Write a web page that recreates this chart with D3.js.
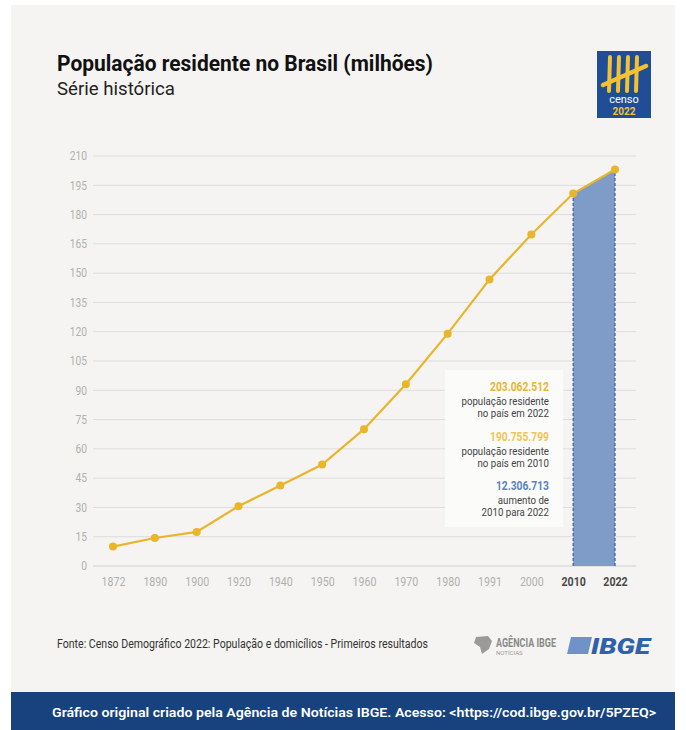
<!DOCTYPE html>
<html>
<head>
<meta charset="utf-8">
<script src="https://cdn.jsdelivr.net/npm/d3@7"></script>
<style>
  body { margin: 0; background: #fff; }
  text { font-family: "Roboto", sans-serif; }
</style>
</head>
<body>
<div id="chart"></div>
<script>
// data
const years = ["1872", "1890", "1900", "1920", "1940", "1950", "1960", "1970", "1980", "1991", "2000", "2010", "2022"];
const population = [9.93, 14.33, 17.44, 30.64, 41.24, 51.94, 70.07, 93.14, 119.0, 146.8, 169.8, 190.76, 203.06];
const yTicks = [0, 15, 30, 45, 60, 75, 90, 105, 120, 135, 150, 165, 180, 195, 210];
const highlightYears = ["2010", "2022"];

const svgWidth = 686;
const svgHeight = 730;

const svg = d3.select("#chart")
    .append("svg")
    .attr("width", svgWidth)
    .attr("height", svgHeight);

// squeeze text horizontally to mimic a condensed face
function condense(sel, k) {
    sel.each(function() {
        const w = this.getComputedTextLength();
        d3.select(this)
            .attr("textLength", w * k)
            .attr("lengthAdjust", "spacingAndGlyphs");
    });
    return sel;
}

// panel background
svg.append("rect")
    .attr("x", 11).attr("y", 5)
    .attr("width", 664).attr("height", 725)
    .attr("fill", "#f5f4f2");

// title
svg.append("text")
    .attr("x", 57).attr("y", 71)
    .attr("font-size", 22).attr("font-weight", "bold")
    .attr("fill", "#111")
    .attr("textLength", 376).attr("lengthAdjust", "spacingAndGlyphs")
    .text("População residente no Brasil (milhões)");

svg.append("text")
    .attr("x", 57).attr("y", 95)
    .attr("font-size", 19)
    .attr("fill", "#222")
    .attr("textLength", 118).attr("lengthAdjust", "spacingAndGlyphs")
    .text("Série histórica");

// censo logo
const logo = svg.append("g").attr("transform", "translate(597, 51)");
logo.append("rect").attr("width", 54).attr("height", 67).attr("fill", "#1f4e96");
[13, 22, 31, 40].forEach(x => {
    logo.append("line")
        .attr("x1", x).attr("y1", 6).attr("x2", x - 1).attr("y2", 40)
        .attr("stroke", "#f2c230").attr("stroke-width", 4).attr("stroke-linecap", "round");
});
logo.append("line")
    .attr("x1", 6).attr("y1", 34).attr("x2", 49).attr("y2", 15)
    .attr("stroke", "#f2c230").attr("stroke-width", 4.5).attr("stroke-linecap", "round");
logo.append("text").attr("x", 27).attr("y", 52).attr("text-anchor", "middle")
    .attr("font-size", 11).attr("font-family", "Open Sans").attr("fill", "#fff")
    .text("censo");
logo.append("text").attr("x", 27).attr("y", 64).attr("text-anchor", "middle")
    .attr("font-size", 10).attr("font-family", "Open Sans").attr("font-weight", "bold").attr("fill", "#f2c230")
    .text("2022");

// scales
const x = d3.scalePoint()
    .domain(years)
    .range([113, 615]);

const y = d3.scaleLinear()
    .domain([0, 210])
    .range([566, 156]);

// grid lines
svg.append("g")
    .selectAll("line")
    .data(yTicks)
    .enter()
    .append("line")
    .attr("x1", 93).attr("x2", 636)
    .attr("y1", d => y(d)).attr("y2", d => y(d))
    .attr("stroke", d => d === 0 ? "#cfcfcf" : "#dddcda")
    .attr("stroke-width", 1);

// y axis
const leftAxis = d3.axisLeft(y).tickValues(yTicks).tickSize(0).tickPadding(0);
const yAxis = svg.append("g")
    .attr("transform", "translate(87, 0)")
    .call(leftAxis);
yAxis.select(".domain").remove();
yAxis.selectAll("text")
    .attr("font-size", 12)
    .attr("fill", "#b0b0b0")
    .style("font-family", "Roboto, sans-serif");
condense(yAxis.selectAll("text"), 0.85);

// highlight area 2010-2022
const bandData = highlightYears.map(yr => ({ year: yr, value: population[years.indexOf(yr)] }));
const area = d3.area()
    .x(d => x(d.year))
    .y0(y(0))
    .y1(d => y(d.value));

svg.append("path")
    .datum(bandData)
    .attr("d", area)
    .attr("fill", "#7f9bc8");

bandData.forEach(d => {
    svg.append("line")
        .attr("x1", x(d.year)).attr("x2", x(d.year))
        .attr("y1", y(0)).attr("y2", y(d.value))
        .attr("stroke", "#3d5c99")
        .attr("stroke-width", 1.2)
        .attr("stroke-dasharray", "3,2");
});

// x axis
const bottomAxis = d3.axisBottom(x).tickSize(0).tickPadding(0);
const xAxis = svg.append("g")
    .attr("transform", "translate(0, 575)")
    .call(bottomAxis);
xAxis.select(".domain").remove();
xAxis.selectAll("text")
    .attr("font-size", 12.5)
    .attr("dy", "0.9em")
    .attr("fill", d => highlightYears.includes(d) ? "#4a4a4a" : "#b0b0b0")
    .attr("font-weight", d => highlightYears.includes(d) ? "bold" : "normal")
    .style("font-family", "Roboto, sans-serif");
condense(xAxis.selectAll("text"), 0.85);

// line
const line = d3.line()
    .x((d, i) => x(years[i]))
    .y(d => y(d));

svg.append("path")
    .datum(population)
    .attr("d", line)
    .attr("fill", "none")
    .attr("stroke", "#e9b52b")
    .attr("stroke-width", 2.2);

svg.append("g")
    .selectAll("circle")
    .data(population)
    .enter()
    .append("circle")
    .attr("cx", (d, i) => x(years[i]))
    .attr("cy", d => y(d))
    .attr("r", 4)
    .attr("fill", "#e9b52b");

// annotation box
svg.append("rect")
    .attr("x", 445).attr("y", 370)
    .attr("width", 118).attr("height", 157)
    .attr("fill", "#fbfbfa");

const notes = [
    { big: "203.062.512", color: "#e9b52b", lines: ["população residente", "no país em 2022"], y: 391 },
    { big: "190.755.799", color: "#efc64f", lines: ["população residente", "no país em 2010"], y: 441 },
    { big: "12.306.713", color: "#5d82bd", lines: ["aumento de", "2010 para 2022"], y: 490 }
];
notes.forEach(n => {
    const big = svg.append("text")
        .attr("x", 549).attr("y", n.y)
        .attr("text-anchor", "end")
        .attr("font-size", 13.5).attr("font-weight", "bold")
        .attr("fill", n.color)
        .text(n.big);
    condense(big, 0.76);
    n.lines.forEach((t, i) => {
        const s = svg.append("text")
            .attr("x", 549).attr("y", n.y + 14 + i * 12)
            .attr("text-anchor", "end")
            .attr("font-size", 11)
            .attr("fill", "#444")
            .text(t);
        condense(s, 0.88);
    });
});

// source
svg.append("text")
    .attr("x", 57).attr("y", 648)
    .attr("font-size", 12)
    .attr("fill", "#333")
    .attr("textLength", 371).attr("lengthAdjust", "spacingAndGlyphs")
    .text("Fonte: Censo Demográfico 2022: População e domicílios - Primeiros resultados");

// agencia ibge logo
const ag = svg.append("g").attr("transform", "translate(472, 635)");
ag.append("path")
    .attr("d", "M4,2 L16,1 L20,6 L17,14 L10,19 L8,12 L2,8 Z")
    .attr("fill", "#9a9a9a");
ag.append("text").attr("x", 24).attr("y", 12)
    .attr("font-size", 12).attr("font-weight", "bold").attr("fill", "#8a8a8a")
    .attr("textLength", 60).attr("lengthAdjust", "spacingAndGlyphs")
    .text("AGÊNCIA IBGE");
ag.append("text").attr("x", 24).attr("y", 20)
    .attr("font-size", 6).attr("fill", "#9a9a9a")
    .text("NOTÍCIAS");

// ibge logo
const ib = svg.append("g").attr("transform", "translate(567, 637)");
ib.append("path")
    .attr("d", "M4,0 L25,0 L21,17 L0,17 Z")
    .attr("fill", "#6f93c9");
ib.append("text").attr("x", 24).attr("y", 17)
    .attr("font-size", 22).attr("font-weight", "900").attr("font-style", "italic")
    .attr("fill", "#2f62ad")
    .attr("textLength", 59).attr("lengthAdjust", "spacingAndGlyphs")
    .text("IBGE");

// bottom band
svg.append("rect")
    .attr("x", 11).attr("y", 692)
    .attr("width", 664).attr("height", 38)
    .attr("fill", "#17427e");

svg.append("text")
    .attr("x", 52).attr("y", 717)
    .attr("font-size", 13.5).attr("font-weight", "600")
    .attr("font-family", "Open Sans, sans-serif")
    .attr("fill", "#fff")
    .attr("textLength", 604).attr("lengthAdjust", "spacingAndGlyphs")
    .text("Gráfico original criado pela Agência de Notícias IBGE. Acesso: <https://cod.ibge.gov.br/5PZEQ>");
</script>
</body>
</html>
